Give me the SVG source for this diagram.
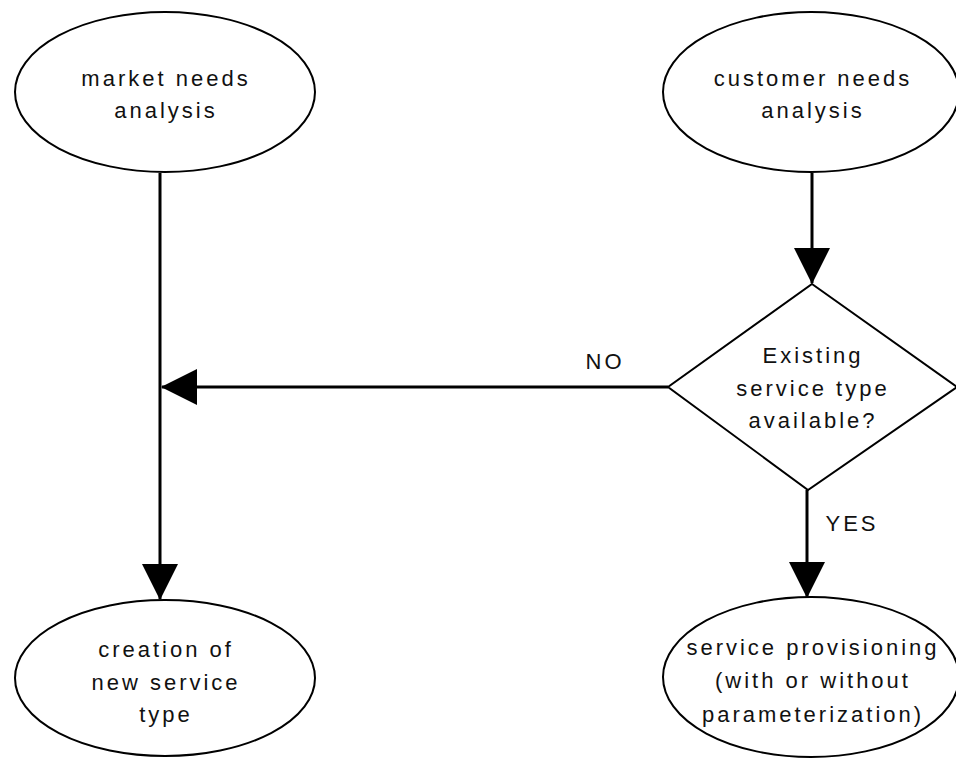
<svg xmlns="http://www.w3.org/2000/svg" width="956" height="758" viewBox="0 0 956 758">
  <style>
    .shape { fill: #fff; stroke: #000; stroke-width: 2; }
    .lbl { font-family: "Liberation Sans", Arial, sans-serif; font-size: 22px; letter-spacing: 3px; fill: #111; text-anchor: middle; }
    .conn { stroke: #000; stroke-width: 3; fill: none; }
  </style>
  <defs>
    <marker id="arrow" markerUnits="userSpaceOnUse" markerWidth="36" markerHeight="36" refX="35" refY="18" orient="auto" viewBox="0 0 36 36">
      <path d="M0,0 L36,18 L0,36 z" fill="#000"/>
    </marker>
  </defs>
  <rect width="956" height="758" fill="#fff"/>

  <g id="connectors">
    <line class="conn" x1="160" y1="173" x2="160" y2="599" marker-end="url(#arrow)"/>
    <line class="conn" x1="668" y1="387" x2="162" y2="387" marker-end="url(#arrow)"/>
    <line class="conn" x1="812" y1="173" x2="812" y2="283" marker-end="url(#arrow)"/>
    <line class="conn" x1="807" y1="490" x2="807" y2="597" marker-end="url(#arrow)"/>
    <text class="lbl" x="605" y="369">NO</text>
    <text class="lbl" x="852" y="531">YES</text>
  </g>

  <g id="market">
    <ellipse class="shape" cx="165" cy="92" rx="150" ry="80"/>
    <text class="lbl" x="166" y="86">market needs</text>
    <text class="lbl" x="166" y="118">analysis</text>
  </g>

  <g id="customer">
    <ellipse class="shape" cx="811" cy="92" rx="148" ry="80"/>
    <text class="lbl" x="813" y="86">customer needs</text>
    <text class="lbl" x="813" y="118">analysis</text>
  </g>

  <g id="decision">
    <polygon class="shape" points="812,284 957,387 808,490 668,387"/>
    <text class="lbl" x="813" y="363">Existing</text>
    <text class="lbl" x="813" y="396">service type</text>
    <text class="lbl" x="813" y="428">available?</text>
  </g>

  <g id="creation">
    <ellipse class="shape" cx="165" cy="678" rx="150" ry="78"/>
    <text class="lbl" x="166" y="657">creation of</text>
    <text class="lbl" x="166" y="690">new service</text>
    <text class="lbl" x="166" y="722">type</text>
  </g>

  <g id="provisioning">
    <ellipse class="shape" cx="811" cy="677" rx="148" ry="80"/>
    <text class="lbl" x="813" y="655">service provisioning</text>
    <text class="lbl" x="813" y="688">(with or without</text>
    <text class="lbl" x="813" y="722">parameterization)</text>
  </g>
</svg>
